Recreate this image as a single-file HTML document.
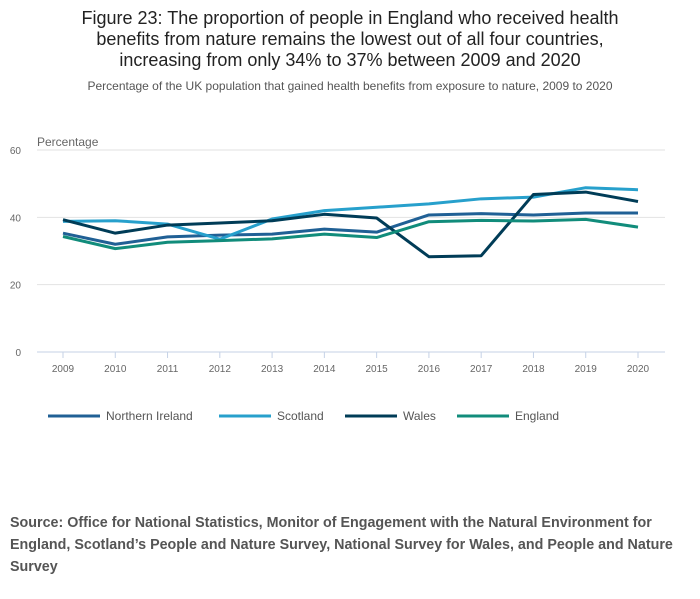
<!DOCTYPE html>
<html><head><meta charset="utf-8"><style>
body{margin:0;width:700px;height:599px;background:#fff;font-family:"Liberation Sans",sans-serif;overflow:hidden}
#title{position:absolute;left:0;top:8px;width:700px;text-align:center;font-size:18px;line-height:21px;color:#222;white-space:nowrap}
#sub{position:absolute;left:0;top:79px;width:700px;text-align:center;font-size:12px;color:#555}
#src{position:absolute;left:10px;top:512px;width:690px;font-size:14.3px;font-weight:bold;line-height:22px;color:#555;white-space:nowrap}
svg{position:absolute;left:0;top:0}
</style></head><body>
<div id="title">Figure 23: The proportion of people in England who received health<br>benefits from nature remains the lowest out of all four countries,<br>increasing from only 34% to 37% between 2009 and 2020</div>
<div id="sub">Percentage of the UK population that gained health benefits from exposure to nature, 2009 to 2020</div>
<svg id="chart" width="700" height="500"></svg>
<div id="src">Source: Office for National Statistics, Monitor of Engagement with the Natural Environment for<br>England, Scotland’s People and Nature Survey, National Survey for Wales, and People and Nature<br>Survey</div>
<script>
const years=[2009,2010,2011,2012,2013,2014,2015,2016,2017,2018,2019,2020];
const yTicks=[0,20,40,60];
const northernIreland=[35.3,32,34.2,34.7,35,36.5,35.6,40.7,41.1,40.7,41.3,41.3];
const scotland=[38.8,39,38,33.5,39.5,42,43,44,45.5,46,48.8,48.2];
const wales=[39.3,35.3,37.7,38.3,39,40.9,39.8,28.3,28.6,46.8,47.5,44.7];
const england=[34.3,30.7,32.6,33.1,33.6,35.0,34.0,38.7,39.1,38.9,39.4,37.1];
const seriesNames=["Northern Ireland","Scotland","Wales","England"];
const series=[northernIreland,scotland,wales,england];
const colors=["#206095","#27a0cc","#003c57","#118c7b"];
const svg=document.getElementById('chart');const NS="http://www.w3.org/2000/svg";
const x0=37,x1=665,yTop=150,yBot=352;
const xs=i=>63+i*(638-63)/(years.length-1);
const ys=v=>yBot-(v/60)*(yBot-yTop);
function mk(t,a,p){const e=document.createElementNS(NS,t);for(const k in a)e.setAttribute(k,a[k]);(p||svg).appendChild(e);return e;}
yTicks.forEach(t=>{
 const g=mk('line',{x1:x0,x2:x1,y1:ys(t),y2:ys(t),stroke:t===0?'#c5d2e6':'#e2e2e2','stroke-width':1});
 
 
 const l=mk('text',{x:21,y:ys(t)+4,'font-size':10,fill:'#666','text-anchor':'end'});l.textContent=t;
 
 
});
const yt=mk('text',{x:37,y:146,'font-size':12,fill:'#666'});yt.textContent='Percentage';


years.forEach((y,i)=>{
 mk('line',{x1:xs(i),x2:xs(i),y1:yBot,y2:yBot+6,stroke:'#c5d2e6'});
 const l=mk('text',{x:xs(i),y:372,'font-size':10,fill:'#666','text-anchor':'middle'});l.textContent=y;
 
 
});
series.forEach((s,k)=>{
 const p=mk('polyline',{points:s.map((v,i)=>xs(i)+','+ys(v)).join(' '),fill:'none',stroke:colors[k],'stroke-width':3,'stroke-linejoin':'round'});
 
 
});
const lx=[48,219,345,457];
seriesNames.forEach((n,k)=>{
 const g=mk('g',{});
 
 
 mk('line',{x1:lx[k],x2:lx[k]+52,y1:416,y2:416,stroke:colors[k],'stroke-width':3},g);
 const t=mk('text',{x:lx[k]+58,y:420,'font-size':12,fill:'#555'},g);t.textContent=n;
});
</script>
</body></html>
